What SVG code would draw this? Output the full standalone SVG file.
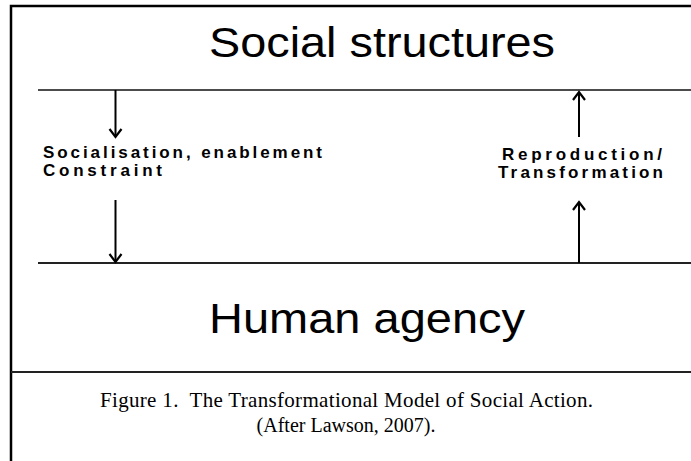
<svg xmlns="http://www.w3.org/2000/svg" width="691" height="461" viewBox="0 0 691 461">
  <style>
    .frame { fill: none; stroke: #000; stroke-width: 2.5; }
    .rule { stroke: #111; stroke-width: 1.3; }
    .rule-thick { stroke: #222; stroke-width: 2.2; }
    .shaft { stroke: #000; stroke-width: 2; fill: none; }
    .big { font-family: "Liberation Sans", Arial, sans-serif; font-size: 42px; fill: #000; }
    .label { font-family: "Liberation Sans", Arial, sans-serif; font-size: 17px; font-weight: bold; fill: #000; }
    .caption { font-family: "Liberation Serif", "Times New Roman", serif; font-size: 21px; fill: #000; white-space: pre; }
  </style>
  <defs>
    <marker id="head" viewBox="-9 -9 18 18" markerWidth="18" markerHeight="18" refX="0" refY="0" orient="auto" markerUnits="userSpaceOnUse">
      <path d="M-8,-6 L0,0 L-8,6" fill="none" stroke="#000" stroke-width="2.2"/>
    </marker>
  </defs>

  <rect width="691" height="461" fill="#fff"/>

  <!-- outer frame and caption separator -->
  <path class="frame" d="M11,461 V6 H691"/>
  <line class="rule-thick" x1="11" y1="372" x2="691" y2="372"/>

  <!-- level boundaries -->
  <line class="rule" x1="38" y1="90" x2="691" y2="90"/>
  <line class="rule-thick" x1="38" y1="263" x2="691" y2="263"/>

  <g id="social-structures">
    <text class="big" x="209" y="57" textLength="346" lengthAdjust="spacingAndGlyphs">Social structures</text>
  </g>

  <g id="human-agency">
    <text class="big" x="209" y="333" textLength="316" lengthAdjust="spacingAndGlyphs">Human agency</text>
  </g>

  <g id="socialisation">
    <text class="label" x="43" y="158" textLength="279" lengthAdjust="spacing">Socialisation, enablement</text>
    <text class="label" x="43" y="176" textLength="119" lengthAdjust="spacing">Constraint</text>
  </g>

  <g id="reproduction">
    <text class="label" x="502" y="160" textLength="160" lengthAdjust="spacing">Reproduction/</text>
    <text class="label" x="498" y="178" textLength="165" lengthAdjust="spacing">Transformation</text>
  </g>

  <g id="connectors">
    <line class="shaft" x1="115.5" y1="90" x2="115.5" y2="137" marker-end="url(#head)"/>
    <line class="shaft" x1="115.5" y1="200" x2="115.5" y2="262" marker-end="url(#head)"/>
    <line class="shaft" x1="579" y1="137" x2="579" y2="92" marker-end="url(#head)"/>
    <line class="shaft" x1="579" y1="263" x2="579" y2="202" marker-end="url(#head)"/>
  </g>

  <g id="caption">
    <text class="caption" x="100" y="407" textLength="493" lengthAdjust="spacing">Figure 1.  The Transformational Model of Social Action.</text>
    <text class="caption" x="346" y="432" text-anchor="middle" style="font-size:20px">(After Lawson, 2007).</text>
  </g>
</svg>
